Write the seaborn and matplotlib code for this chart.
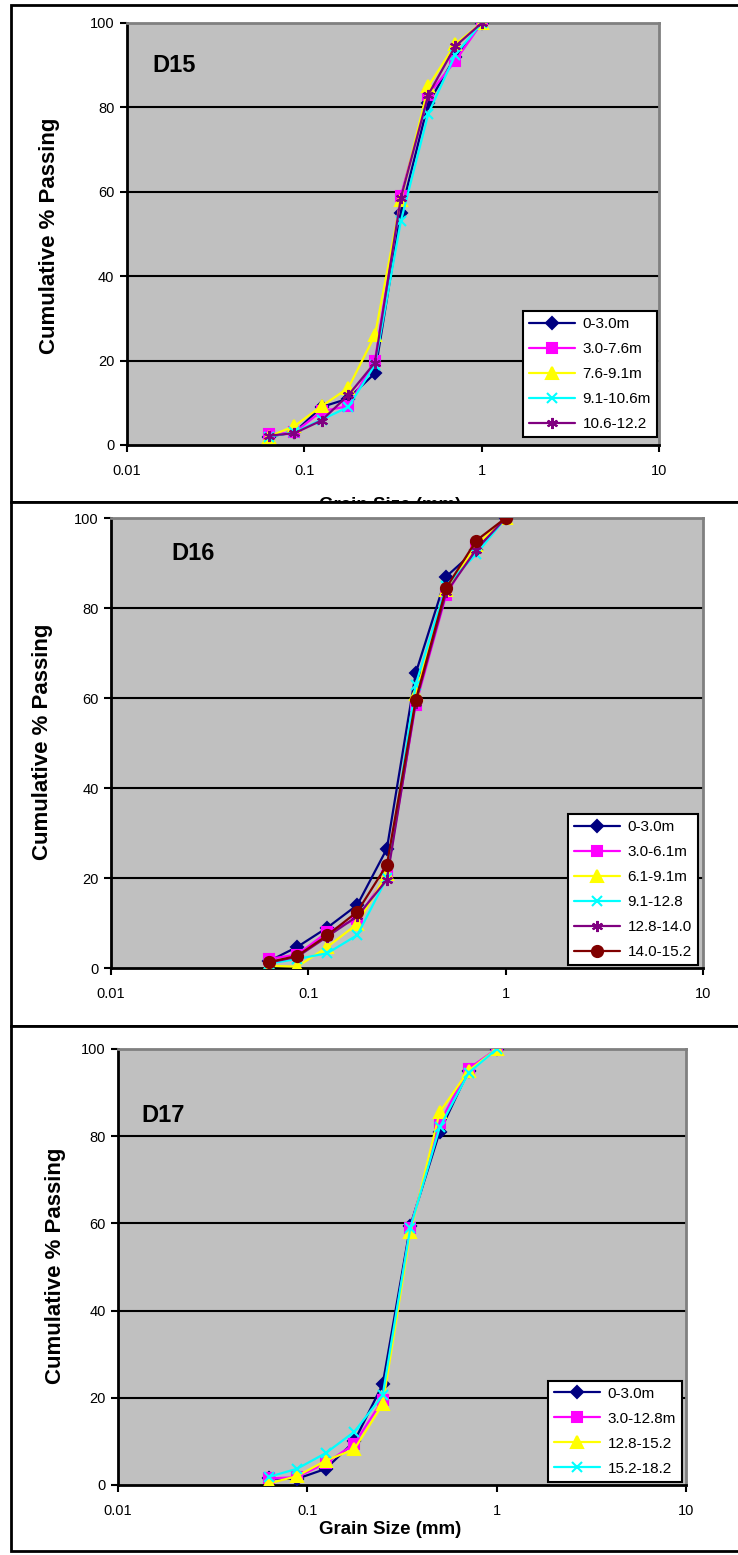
import matplotlib
matplotlib.use("Agg")
import matplotlib.pyplot as plt
import seaborn as sns
from matplotlib.patches import Rectangle
from matplotlib.ticker import FixedLocator, FixedFormatter, NullLocator

sns.set_theme(style="white")
plt.rcParams['font.family'] = ['Liberation Sans', 'DejaVu Sans']
plt.rcParams['text.color'] = 'black'
plt.rcParams['axes.labelcolor'] = 'black'
plt.rcParams['xtick.color'] = 'black'
plt.rcParams['ytick.color'] = 'black'

# ---------------- data ----------------
sizes = [0.063, 0.088, 0.125, 0.177, 0.25, 0.35, 0.5, 0.71, 1.0]

d15_labels = ["0-3.0m", "3.0-7.6m", "7.6-9.1m", "9.1-10.6m", "10.6-12.2"]
d15_a = [2.0, 3.0, 9.0, 11.0, 17.0, 55.0, 81.0, 92.0, 100.0]
d15_b = [2.5, 3.0, 8.0, 9.2, 20.0, 59.0, 83.0, 91.0, 100.0]
d15_c = [2.0, 4.5, 9.2, 13.5, 26.0, 58.0, 85.0, 95.0, 100.0]
d15_d = [2.0, 3.0, 6.0, 9.0, 19.0, 53.0, 78.5, 92.5, 100.0]
d15_e = [2.2, 2.8, 5.8, 11.8, 19.5, 58.5, 83.0, 94.5, 100.0]

d16_labels = ["0-3.0m", "3.0-6.1m", "6.1-9.1m", "9.1-12.8", "12.8-14.0", "14.0-15.2"]
d16_a = [1.5, 4.7, 9.0, 14.0, 26.5, 65.5, 87.0, 93.0, 100.0]
d16_b = [2.0, 3.0, 8.0, 11.0, 20.5, 58.5, 83.0, 94.0, 100.0]
d16_c = [0.5, 0.3, 4.7, 9.8, 21.0, 61.0, 84.0, 94.0, 100.0]
d16_d = [1.0, 2.0, 3.3, 7.3, 20.0, 63.0, 85.0, 92.0, 100.0]
d16_e = [1.2, 2.5, 7.0, 11.5, 19.6, 59.0, 83.5, 93.0, 100.0]
d16_f = [1.3, 2.7, 7.3, 12.5, 22.9, 59.5, 84.5, 95.0, 100.0]

d17_labels = ["0-3.0m", "3.0-12.8m", "12.8-15.2", "15.2-18.2"]
d17_a = [1.5, 1.4, 3.7, 10.0, 23.1, 59.5, 81.0, 95.0, 100.0]
d17_b = [1.5, 1.8, 5.0, 9.4, 19.5, 59.0, 83.0, 95.5, 100.0]
d17_c = [0.4, 2.0, 5.6, 8.2, 18.5, 58.0, 85.5, 95.0, 100.0]
d17_d = [1.9, 3.7, 7.3, 12.2, 20.6, 59.0, 82.0, 94.5, 100.0]

xticks = [0.01, 0.1, 1, 10]
xtick_labels = ["0.01", "0.1", "1", "10"]
yticks = [0, 20, 40, 60, 80, 100]

# ---------------- styles ----------------
styles = [
    dict(color="#000080", marker="D", ms=6),
    dict(color="#FF00FF", marker="s", ms=7),
    dict(color="#FFFF00", marker="^", ms=8),
    dict(color="#00FFFF", marker="x", ms=7),
    dict(color="#800080", marker=(6, 2, 0), ms=8),
    dict(color="#800000", marker="o", ms=8),
]

W, H = 738, 1555
fig = plt.figure(figsize=(W / 100, H / 100), dpi=100)


def px_axes(l, t, r, b):
    return [l / W, 1 - b / H, (r - l) / W, (b - t) / H]


def px_text(x, y, s, **kw):
    return fig.text(x / W, 1 - y / H, s, **kw)


def panel_rect(top, bottom, z):
    rect = Rectangle((11 / W, 1 - bottom / H), (W + 20) / W, (bottom - top) / H,
                     transform=fig.transFigure, facecolor="white",
                     edgecolor="black", lw=2, zorder=z)
    fig.patches.append(rect)


def draw_panel(box, series, labels, name, name_xy, leg_anchor, z):
    ax = fig.add_axes(px_axes(*box))
    ax.set_zorder(z)
    ax.set_facecolor("#C0C0C0")
    for vals, lab, st in zip(series, labels, styles):
        sns.lineplot(x=sizes, y=vals, ax=ax, color=st["color"], marker=st["marker"],
                     markersize=st["ms"], markeredgecolor=st["color"],
                     markerfacecolor=st["color"], markeredgewidth=1.5,
                     linewidth=1.6, label=lab, sort=False, zorder=3)
    ax.set_xscale("log")
    ax.set_xlim(0.01, 10)
    ax.set_ylim(0, 100)
    ax.xaxis.set_major_locator(FixedLocator(xticks))
    ax.xaxis.set_major_formatter(FixedFormatter(xtick_labels))
    ax.xaxis.set_minor_locator(NullLocator())
    ax.set_yticks(yticks)
    ax.set_yticklabels([str(v) for v in yticks])
    for yv in yticks[1:-1]:
        ax.axhline(yv, color="black", lw=1.5, zorder=1)
    ax.tick_params(axis="both", direction="out", length=5, width=1.5,
                   labelsize=10.5, colors="black", pad=4,
                   bottom=True, left=True)
    ax.tick_params(axis="x", pad=9)
    ax.spines["left"].set_color("black")
    ax.spines["bottom"].set_color("black")
    ax.spines["left"].set_linewidth(2)
    ax.spines["bottom"].set_linewidth(2)
    ax.spines["top"].set_color("#808080")
    ax.spines["right"].set_color("#808080")
    ax.spines["top"].set_linewidth(2)
    ax.spines["right"].set_linewidth(2)
    ax.set_xlabel("")
    ax.set_ylabel("")
    ax.grid(False)
    ax.text(name_xy[0], name_xy[1], name, transform=ax.transAxes, color="black",
            fontsize=17, fontweight="bold", ha="center", va="center")
    leg = ax.legend(loc="lower right", bbox_to_anchor=leg_anchor, frameon=True,
                    fancybox=False, shadow=False, fontsize=11, handlelength=3.0,
                    labelspacing=0.72, borderpad=0.4, handletextpad=0.5,
                    borderaxespad=0, labelcolor="black")
    leg.get_frame().set_edgecolor("black")
    leg.get_frame().set_linewidth(1.5)
    leg.get_frame().set_facecolor("white")
    leg.get_frame().set_alpha(1)
    return ax


# panel 1
panel_rect(5, 502, 0)
b1 = (127, 23, 659, 445)
draw_panel(b1, [d15_a, d15_b, d15_c, d15_d, d15_e], d15_labels, "D15",
           ((174 - 127) / 532, (445 - 66) / 422), (0.996, 0.019), 1)
px_text(50, 236, "Cumulative % Passing", rotation=90, fontsize=16,
        fontweight="bold", ha="center", va="center", zorder=1.5)
px_text(390, 505, "Grain Size (mm)", fontsize=13.5, fontweight="bold",
        ha="center", va="center", zorder=1.5)

# panel 2
panel_rect(502, 1026, 2)
b2 = (111, 518, 703, 968)
draw_panel(b2, [d16_a, d16_b, d16_c, d16_d, d16_e, d16_f], d16_labels, "D16",
           ((193 - 111) / 592, (968 - 553) / 450), (0.9916, 0.0067), 3)
px_text(43, 742, "Cumulative % Passing", rotation=90, fontsize=16,
        fontweight="bold", ha="center", va="center", zorder=3.5)

# panel 3
panel_rect(1026, 1551, 4)
b3 = (118, 1049, 686, 1485)
draw_panel(b3, [d17_a, d17_b, d17_c, d17_d], d17_labels, "D17",
           ((163 - 118) / 568, (1485 - 1115) / 436), (0.993, 0.007), 5)
px_text(56, 1266, "Cumulative % Passing", rotation=90, fontsize=16,
        fontweight="bold", ha="center", va="center", zorder=5.5)
px_text(390, 1530, "Grain Size (mm)", fontsize=13.5, fontweight="bold",
        ha="center", va="center", zorder=5.5)

fig.savefig("out.png", dpi=100)
